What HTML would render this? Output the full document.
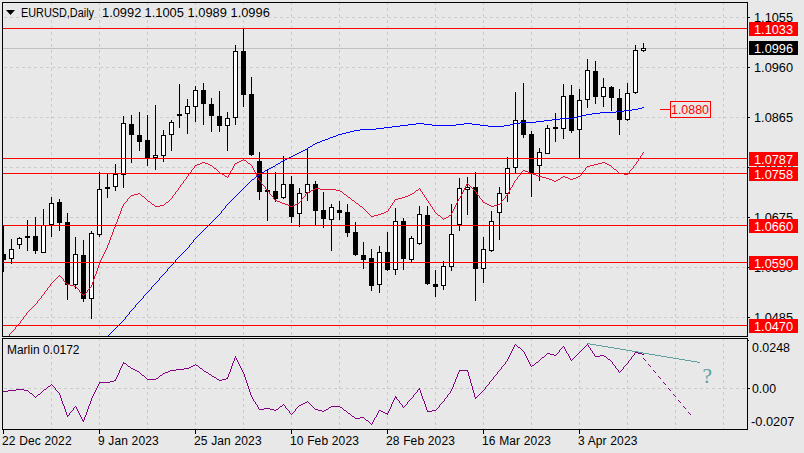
<!DOCTYPE html><html><head><meta charset="utf-8"><title>EURUSD,Daily</title><style>html,body{margin:0;padding:0;background:#e8e8e8;width:804px;height:453px;overflow:hidden}svg{display:block}text{font-family:"Liberation Sans", sans-serif;font-size:12px}</style></head><body>
<svg width="804" height="453" viewBox="0 0 804 453">
<rect x="0" y="0" width="804" height="453" fill="#e8e8e8"/>
<defs><clipPath id="cm"><rect x="3" y="3" width="744" height="333"/></clipPath><clipPath id="ci"><rect x="3" y="339" width="744" height="90"/></clipPath></defs>
<g shape-rendering="crispEdges" stroke="#cccccc" stroke-width="1" fill="none"><line x1="4" y1="17.5" x2="747" y2="17.5" stroke-dasharray="3 3"/><line x1="4" y1="67.5" x2="747" y2="67.5" stroke-dasharray="3 3"/><line x1="4" y1="117.5" x2="747" y2="117.5" stroke-dasharray="3 3"/><line x1="4" y1="167.5" x2="747" y2="167.5" stroke-dasharray="3 3"/><line x1="4" y1="217.5" x2="747" y2="217.5" stroke-dasharray="3 3"/><line x1="4" y1="267.5" x2="747" y2="267.5" stroke-dasharray="3 3"/><line x1="4" y1="317.5" x2="747" y2="317.5" stroke-dasharray="3 3"/><line x1="51.5" y1="2" x2="51.5" y2="336" stroke-dasharray="3 3"/><line x1="51.5" y1="338" x2="51.5" y2="429" stroke-dasharray="3 3"/><line x1="99.5" y1="2" x2="99.5" y2="336" stroke-dasharray="3 3"/><line x1="99.5" y1="338" x2="99.5" y2="429" stroke-dasharray="3 3"/><line x1="147.5" y1="2" x2="147.5" y2="336" stroke-dasharray="3 3"/><line x1="147.5" y1="338" x2="147.5" y2="429" stroke-dasharray="3 3"/><line x1="195.5" y1="2" x2="195.5" y2="336" stroke-dasharray="3 3"/><line x1="195.5" y1="338" x2="195.5" y2="429" stroke-dasharray="3 3"/><line x1="243.5" y1="2" x2="243.5" y2="336" stroke-dasharray="3 3"/><line x1="243.5" y1="338" x2="243.5" y2="429" stroke-dasharray="3 3"/><line x1="291.5" y1="2" x2="291.5" y2="336" stroke-dasharray="3 3"/><line x1="291.5" y1="338" x2="291.5" y2="429" stroke-dasharray="3 3"/><line x1="339.5" y1="2" x2="339.5" y2="336" stroke-dasharray="3 3"/><line x1="339.5" y1="338" x2="339.5" y2="429" stroke-dasharray="3 3"/><line x1="387.5" y1="2" x2="387.5" y2="336" stroke-dasharray="3 3"/><line x1="387.5" y1="338" x2="387.5" y2="429" stroke-dasharray="3 3"/><line x1="435.5" y1="2" x2="435.5" y2="336" stroke-dasharray="3 3"/><line x1="435.5" y1="338" x2="435.5" y2="429" stroke-dasharray="3 3"/><line x1="483.5" y1="2" x2="483.5" y2="336" stroke-dasharray="3 3"/><line x1="483.5" y1="338" x2="483.5" y2="429" stroke-dasharray="3 3"/><line x1="531.5" y1="2" x2="531.5" y2="336" stroke-dasharray="3 3"/><line x1="531.5" y1="338" x2="531.5" y2="429" stroke-dasharray="3 3"/><line x1="579.5" y1="2" x2="579.5" y2="336" stroke-dasharray="3 3"/><line x1="579.5" y1="338" x2="579.5" y2="429" stroke-dasharray="3 3"/><line x1="627.5" y1="2" x2="627.5" y2="336" stroke-dasharray="3 3"/><line x1="627.5" y1="338" x2="627.5" y2="429" stroke-dasharray="3 3"/><line x1="675.5" y1="2" x2="675.5" y2="336" stroke-dasharray="3 3"/><line x1="675.5" y1="338" x2="675.5" y2="429" stroke-dasharray="3 3"/><line x1="723.5" y1="2" x2="723.5" y2="336" stroke-dasharray="3 3"/><line x1="723.5" y1="338" x2="723.5" y2="429" stroke-dasharray="3 3"/><line x1="4" y1="388.5" x2="747" y2="388.5" stroke-dasharray="3 3"/></g>
<rect x="3" y="48" width="744" height="1" fill="#c0c0c0"/>
<g clip-path="url(#cm)" shape-rendering="crispEdges"><rect x="3" y="225" width="1" height="47" fill="#000"/><rect x="1" y="254" width="5" height="6" fill="#000"/><rect x="11" y="239" width="1" height="25" fill="#000"/><rect x="9" y="249" width="5" height="10" fill="#000"/><rect x="10" y="250" width="3" height="8" fill="#fff"/><rect x="19" y="237" width="1" height="12" fill="#000"/><rect x="17" y="238" width="5" height="7" fill="#000"/><rect x="18" y="239" width="3" height="5" fill="#fff"/><rect x="27" y="220" width="1" height="31" fill="#000"/><rect x="25" y="236" width="5" height="2" fill="#000"/><rect x="35" y="217" width="1" height="37" fill="#000"/><rect x="33" y="236" width="5" height="15" fill="#000"/><rect x="43" y="209" width="1" height="44" fill="#000"/><rect x="41" y="225" width="5" height="28" fill="#000"/><rect x="42" y="226" width="3" height="26" fill="#fff"/><rect x="51" y="197" width="1" height="40" fill="#000"/><rect x="49" y="203" width="5" height="22" fill="#000"/><rect x="50" y="204" width="3" height="20" fill="#fff"/><rect x="59" y="199" width="1" height="32" fill="#000"/><rect x="57" y="202" width="5" height="21" fill="#000"/><rect x="67" y="213" width="1" height="87" fill="#000"/><rect x="65" y="222" width="5" height="63" fill="#000"/><rect x="75" y="237" width="1" height="52" fill="#000"/><rect x="73" y="254" width="5" height="31" fill="#000"/><rect x="74" y="255" width="3" height="29" fill="#fff"/><rect x="83" y="240" width="1" height="62" fill="#000"/><rect x="81" y="255" width="5" height="44" fill="#000"/><rect x="91" y="231" width="1" height="88" fill="#000"/><rect x="89" y="233" width="5" height="66" fill="#000"/><rect x="90" y="234" width="3" height="64" fill="#fff"/><rect x="99" y="172" width="1" height="65" fill="#000"/><rect x="97" y="189" width="5" height="46" fill="#000"/><rect x="98" y="190" width="3" height="44" fill="#fff"/><rect x="107" y="174" width="1" height="24" fill="#000"/><rect x="105" y="187" width="5" height="2" fill="#000"/><rect x="115" y="164" width="1" height="27" fill="#000"/><rect x="113" y="174" width="5" height="13" fill="#000"/><rect x="114" y="175" width="3" height="11" fill="#fff"/><rect x="123" y="116" width="1" height="72" fill="#000"/><rect x="121" y="123" width="5" height="52" fill="#000"/><rect x="122" y="124" width="3" height="50" fill="#fff"/><rect x="131" y="115" width="1" height="48" fill="#000"/><rect x="129" y="124" width="5" height="11" fill="#000"/><rect x="139" y="112" width="1" height="39" fill="#000"/><rect x="137" y="135" width="5" height="7" fill="#000"/><rect x="147" y="115" width="1" height="51" fill="#000"/><rect x="145" y="140" width="5" height="18" fill="#000"/><rect x="155" y="105" width="1" height="65" fill="#000"/><rect x="153" y="155" width="5" height="3" fill="#000"/><rect x="154" y="156" width="3" height="1" fill="#fff"/><rect x="163" y="130" width="1" height="32" fill="#000"/><rect x="161" y="135" width="5" height="21" fill="#000"/><rect x="162" y="136" width="3" height="19" fill="#fff"/><rect x="171" y="120" width="1" height="31" fill="#000"/><rect x="169" y="122" width="5" height="13" fill="#000"/><rect x="170" y="123" width="3" height="11" fill="#fff"/><rect x="179" y="84" width="1" height="44" fill="#000"/><rect x="177" y="114" width="5" height="2" fill="#000"/><rect x="187" y="99" width="1" height="35" fill="#000"/><rect x="185" y="106" width="5" height="8" fill="#000"/><rect x="186" y="107" width="3" height="6" fill="#fff"/><rect x="195" y="86" width="1" height="36" fill="#000"/><rect x="193" y="90" width="5" height="17" fill="#000"/><rect x="194" y="91" width="3" height="15" fill="#fff"/><rect x="203" y="83" width="1" height="42" fill="#000"/><rect x="201" y="90" width="5" height="14" fill="#000"/><rect x="211" y="98" width="1" height="34" fill="#000"/><rect x="209" y="104" width="5" height="12" fill="#000"/><rect x="219" y="91" width="1" height="41" fill="#000"/><rect x="217" y="116" width="5" height="10" fill="#000"/><rect x="227" y="112" width="1" height="39" fill="#000"/><rect x="225" y="118" width="5" height="8" fill="#000"/><rect x="226" y="119" width="3" height="6" fill="#fff"/><rect x="235" y="45" width="1" height="80" fill="#000"/><rect x="233" y="51" width="5" height="67" fill="#000"/><rect x="234" y="52" width="3" height="65" fill="#fff"/><rect x="243" y="29" width="1" height="78" fill="#000"/><rect x="241" y="51" width="5" height="44" fill="#000"/><rect x="251" y="77" width="1" height="79" fill="#000"/><rect x="249" y="94" width="5" height="61" fill="#000"/><rect x="259" y="152" width="1" height="48" fill="#000"/><rect x="257" y="161" width="5" height="31" fill="#000"/><rect x="267" y="169" width="1" height="52" fill="#000"/><rect x="265" y="190" width="5" height="2" fill="#000"/><rect x="275" y="172" width="1" height="30" fill="#000"/><rect x="273" y="191" width="5" height="8" fill="#000"/><rect x="283" y="156" width="1" height="43" fill="#000"/><rect x="281" y="184" width="5" height="14" fill="#000"/><rect x="282" y="185" width="3" height="12" fill="#fff"/><rect x="291" y="176" width="1" height="47" fill="#000"/><rect x="289" y="184" width="5" height="33" fill="#000"/><rect x="299" y="188" width="1" height="39" fill="#000"/><rect x="297" y="193" width="5" height="21" fill="#000"/><rect x="298" y="194" width="3" height="19" fill="#fff"/><rect x="307" y="149" width="1" height="52" fill="#000"/><rect x="305" y="184" width="5" height="9" fill="#000"/><rect x="306" y="185" width="3" height="7" fill="#fff"/><rect x="315" y="181" width="1" height="44" fill="#000"/><rect x="313" y="184" width="5" height="27" fill="#000"/><rect x="323" y="192" width="1" height="36" fill="#000"/><rect x="321" y="210" width="5" height="9" fill="#000"/><rect x="331" y="204" width="1" height="47" fill="#000"/><rect x="329" y="207" width="5" height="13" fill="#000"/><rect x="330" y="208" width="3" height="11" fill="#fff"/><rect x="339" y="201" width="1" height="19" fill="#000"/><rect x="337" y="210" width="5" height="3" fill="#000"/><rect x="347" y="204" width="1" height="33" fill="#000"/><rect x="345" y="212" width="5" height="21" fill="#000"/><rect x="355" y="222" width="1" height="34" fill="#000"/><rect x="353" y="232" width="5" height="23" fill="#000"/><rect x="363" y="242" width="1" height="27" fill="#000"/><rect x="361" y="255" width="5" height="5" fill="#000"/><rect x="371" y="249" width="1" height="42" fill="#000"/><rect x="369" y="258" width="5" height="28" fill="#000"/><rect x="379" y="246" width="1" height="47" fill="#000"/><rect x="377" y="252" width="5" height="33" fill="#000"/><rect x="378" y="253" width="3" height="31" fill="#fff"/><rect x="387" y="232" width="1" height="39" fill="#000"/><rect x="385" y="252" width="5" height="18" fill="#000"/><rect x="395" y="208" width="1" height="67" fill="#000"/><rect x="393" y="221" width="5" height="49" fill="#000"/><rect x="394" y="222" width="3" height="47" fill="#fff"/><rect x="403" y="218" width="1" height="52" fill="#000"/><rect x="401" y="221" width="5" height="38" fill="#000"/><rect x="411" y="236" width="1" height="26" fill="#000"/><rect x="409" y="238" width="5" height="22" fill="#000"/><rect x="410" y="239" width="3" height="20" fill="#fff"/><rect x="419" y="206" width="1" height="39" fill="#000"/><rect x="417" y="214" width="5" height="30" fill="#000"/><rect x="418" y="215" width="3" height="28" fill="#fff"/><rect x="427" y="206" width="1" height="79" fill="#000"/><rect x="425" y="215" width="5" height="69" fill="#000"/><rect x="435" y="270" width="1" height="27" fill="#000"/><rect x="433" y="284" width="5" height="3" fill="#000"/><rect x="443" y="261" width="1" height="29" fill="#000"/><rect x="441" y="266" width="5" height="20" fill="#000"/><rect x="442" y="267" width="3" height="18" fill="#fff"/><rect x="451" y="204" width="1" height="67" fill="#000"/><rect x="449" y="234" width="5" height="33" fill="#000"/><rect x="450" y="235" width="3" height="31" fill="#fff"/><rect x="459" y="178" width="1" height="53" fill="#000"/><rect x="457" y="188" width="5" height="37" fill="#000"/><rect x="458" y="189" width="3" height="35" fill="#fff"/><rect x="467" y="177" width="1" height="38" fill="#000"/><rect x="465" y="187" width="5" height="3" fill="#000"/><rect x="466" y="188" width="3" height="1" fill="#fff"/><rect x="475" y="172" width="1" height="129" fill="#000"/><rect x="473" y="187" width="5" height="82" fill="#000"/><rect x="483" y="237" width="1" height="46" fill="#000"/><rect x="481" y="249" width="5" height="20" fill="#000"/><rect x="482" y="250" width="3" height="18" fill="#fff"/><rect x="491" y="211" width="1" height="41" fill="#000"/><rect x="489" y="221" width="5" height="30" fill="#000"/><rect x="490" y="222" width="3" height="28" fill="#fff"/><rect x="499" y="187" width="1" height="53" fill="#000"/><rect x="497" y="193" width="5" height="20" fill="#000"/><rect x="498" y="194" width="3" height="18" fill="#fff"/><rect x="507" y="157" width="1" height="45" fill="#000"/><rect x="505" y="168" width="5" height="26" fill="#000"/><rect x="506" y="169" width="3" height="24" fill="#fff"/><rect x="515" y="92" width="1" height="81" fill="#000"/><rect x="513" y="120" width="5" height="48" fill="#000"/><rect x="514" y="121" width="3" height="46" fill="#fff"/><rect x="523" y="83" width="1" height="55" fill="#000"/><rect x="521" y="120" width="5" height="15" fill="#000"/><rect x="531" y="131" width="1" height="66" fill="#000"/><rect x="529" y="134" width="5" height="39" fill="#000"/><rect x="539" y="148" width="1" height="33" fill="#000"/><rect x="537" y="152" width="5" height="14" fill="#000"/><rect x="538" y="153" width="3" height="12" fill="#fff"/><rect x="547" y="125" width="1" height="29" fill="#000"/><rect x="545" y="128" width="5" height="26" fill="#000"/><rect x="546" y="129" width="3" height="24" fill="#fff"/><rect x="555" y="113" width="1" height="29" fill="#000"/><rect x="553" y="127" width="5" height="2" fill="#000"/><rect x="563" y="84" width="1" height="55" fill="#000"/><rect x="561" y="96" width="5" height="33" fill="#000"/><rect x="562" y="97" width="3" height="31" fill="#fff"/><rect x="571" y="85" width="1" height="48" fill="#000"/><rect x="569" y="95" width="5" height="36" fill="#000"/><rect x="579" y="89" width="1" height="69" fill="#000"/><rect x="577" y="100" width="5" height="30" fill="#000"/><rect x="578" y="101" width="3" height="28" fill="#fff"/><rect x="587" y="59" width="1" height="49" fill="#000"/><rect x="585" y="70" width="5" height="30" fill="#000"/><rect x="586" y="71" width="3" height="28" fill="#fff"/><rect x="595" y="61" width="1" height="43" fill="#000"/><rect x="593" y="71" width="5" height="26" fill="#000"/><rect x="603" y="78" width="1" height="29" fill="#000"/><rect x="601" y="87" width="5" height="10" fill="#000"/><rect x="602" y="88" width="3" height="8" fill="#fff"/><rect x="611" y="86" width="1" height="25" fill="#000"/><rect x="609" y="87" width="5" height="11" fill="#000"/><rect x="619" y="89" width="1" height="46" fill="#000"/><rect x="617" y="98" width="5" height="22" fill="#000"/><rect x="627" y="83" width="1" height="38" fill="#000"/><rect x="625" y="93" width="5" height="27" fill="#000"/><rect x="626" y="94" width="3" height="25" fill="#fff"/><rect x="635" y="45" width="1" height="49" fill="#000"/><rect x="633" y="50" width="5" height="43" fill="#000"/><rect x="634" y="51" width="3" height="41" fill="#fff"/><rect x="643" y="43" width="1" height="9" fill="#000"/><rect x="641" y="48" width="5" height="3" fill="#000"/><rect x="642" y="49" width="3" height="1" fill="#fff"/></g>
<path fill="#dc143c" shape-rendering="crispEdges" d="M643 152h1v1h-1zM642 153h1v1h-1zM642 154h1v1h-1zM641 155h1v1h-1zM640 156h1v1h-1zM640 157h1v1h-1zM639 158h1v1h-1zM243 159h1v1h-1zM638 159h1v1h-1zM241 160h2v1h-2zM244 160h2v1h-2zM638 160h1v1h-1zM239 161h2v1h-2zM246 161h1v1h-1zM637 161h1v1h-1zM202 162h3v1h-3zM237 162h2v1h-2zM247 162h1v1h-1zM602 162h3v1h-3zM636 162h1v1h-1zM200 163h2v1h-2zM205 163h3v1h-3zM235 163h2v1h-2zM248 163h2v1h-2zM598 163h4v1h-4zM605 163h2v1h-2zM636 163h1v1h-1zM197 164h3v1h-3zM208 164h2v1h-2zM234 164h1v1h-1zM250 164h1v1h-1zM594 164h4v1h-4zM607 164h2v1h-2zM635 164h1v1h-1zM195 165h2v1h-2zM210 165h2v1h-2zM234 165h1v1h-1zM251 165h1v1h-1zM590 165h4v1h-4zM609 165h2v1h-2zM634 165h1v1h-1zM194 166h1v1h-1zM212 166h1v1h-1zM233 166h1v1h-1zM252 166h1v1h-1zM587 166h3v1h-3zM611 166h1v1h-1zM633 166h1v1h-1zM194 167h1v1h-1zM213 167h1v1h-1zM233 167h1v1h-1zM252 167h1v1h-1zM586 167h1v1h-1zM612 167h1v1h-1zM633 167h1v1h-1zM193 168h1v1h-1zM214 168h2v1h-2zM232 168h1v1h-1zM253 168h1v1h-1zM585 168h1v1h-1zM613 168h1v1h-1zM632 168h1v1h-1zM192 169h1v1h-1zM216 169h1v1h-1zM232 169h1v1h-1zM253 169h1v1h-1zM585 169h1v1h-1zM614 169h2v1h-2zM631 169h1v1h-1zM191 170h1v1h-1zM217 170h1v1h-1zM231 170h1v1h-1zM254 170h1v1h-1zM523 170h2v1h-2zM584 170h1v1h-1zM616 170h1v1h-1zM630 170h1v1h-1zM191 171h1v1h-1zM218 171h1v1h-1zM230 171h1v1h-1zM254 171h1v1h-1zM522 171h1v1h-1zM525 171h3v1h-3zM583 171h1v1h-1zM617 171h1v1h-1zM629 171h1v1h-1zM190 172h1v1h-1zM219 172h1v1h-1zM230 172h1v1h-1zM255 172h1v1h-1zM521 172h1v1h-1zM528 172h2v1h-2zM582 172h1v1h-1zM618 172h1v1h-1zM629 172h1v1h-1zM189 173h1v1h-1zM220 173h2v1h-2zM229 173h1v1h-1zM255 173h1v1h-1zM521 173h1v1h-1zM530 173h3v1h-3zM581 173h1v1h-1zM619 173h5v1h-5zM628 173h1v1h-1zM188 174h1v1h-1zM222 174h2v1h-2zM229 174h1v1h-1zM256 174h1v1h-1zM520 174h1v1h-1zM533 174h3v1h-3zM581 174h1v1h-1zM624 174h4v1h-4zM188 175h1v1h-1zM224 175h1v1h-1zM228 175h1v1h-1zM256 175h1v1h-1zM519 175h1v1h-1zM536 175h2v1h-2zM580 175h1v1h-1zM187 176h1v1h-1zM225 176h2v1h-2zM228 176h1v1h-1zM257 176h1v1h-1zM518 176h1v1h-1zM538 176h4v1h-4zM563 176h2v1h-2zM578 176h2v1h-2zM186 177h1v1h-1zM227 177h1v1h-1zM257 177h1v1h-1zM517 177h1v1h-1zM542 177h4v1h-4zM561 177h2v1h-2zM565 177h3v1h-3zM576 177h2v1h-2zM186 178h1v1h-1zM258 178h1v1h-1zM517 178h1v1h-1zM546 178h3v1h-3zM560 178h1v1h-1zM568 178h2v1h-2zM573 178h3v1h-3zM185 179h1v1h-1zM258 179h1v1h-1zM516 179h1v1h-1zM549 179h3v1h-3zM558 179h2v1h-2zM570 179h3v1h-3zM184 180h1v1h-1zM259 180h1v1h-1zM515 180h1v1h-1zM552 180h2v1h-2zM556 180h2v1h-2zM183 181h1v1h-1zM260 181h1v1h-1zM514 181h1v1h-1zM554 181h2v1h-2zM183 182h1v1h-1zM261 182h1v1h-1zM514 182h1v1h-1zM182 183h1v1h-1zM261 183h1v1h-1zM467 183h1v1h-1zM513 183h1v1h-1zM181 184h1v1h-1zM262 184h1v1h-1zM466 184h1v1h-1zM468 184h1v1h-1zM513 184h1v1h-1zM180 185h1v1h-1zM263 185h1v1h-1zM466 185h1v1h-1zM469 185h1v1h-1zM512 185h1v1h-1zM180 186h1v1h-1zM264 186h1v1h-1zM465 186h1v1h-1zM470 186h1v1h-1zM512 186h1v1h-1zM179 187h1v1h-1zM265 187h1v1h-1zM465 187h1v1h-1zM471 187h1v1h-1zM511 187h1v1h-1zM178 188h1v1h-1zM265 188h1v1h-1zM315 188h5v1h-5zM419 188h1v1h-1zM464 188h1v1h-1zM472 188h1v1h-1zM510 188h1v1h-1zM178 189h1v1h-1zM266 189h1v1h-1zM313 189h2v1h-2zM320 189h16v1h-16zM418 189h1v1h-1zM420 189h1v1h-1zM464 189h1v1h-1zM473 189h1v1h-1zM510 189h1v1h-1zM177 190h1v1h-1zM267 190h1v1h-1zM311 190h2v1h-2zM336 190h4v1h-4zM416 190h2v1h-2zM420 190h1v1h-1zM463 190h1v1h-1zM474 190h1v1h-1zM509 190h1v1h-1zM176 191h1v1h-1zM268 191h1v1h-1zM309 191h2v1h-2zM340 191h2v1h-2zM415 191h1v1h-1zM421 191h1v1h-1zM463 191h1v1h-1zM475 191h1v1h-1zM509 191h1v1h-1zM175 192h1v1h-1zM269 192h1v1h-1zM307 192h2v1h-2zM342 192h1v1h-1zM414 192h1v1h-1zM422 192h1v1h-1zM462 192h1v1h-1zM476 192h1v1h-1zM508 192h1v1h-1zM138 193h2v1h-2zM175 193h1v1h-1zM269 193h1v1h-1zM306 193h1v1h-1zM343 193h1v1h-1zM412 193h2v1h-2zM422 193h1v1h-1zM462 193h1v1h-1zM476 193h1v1h-1zM508 193h1v1h-1zM134 194h4v1h-4zM140 194h1v1h-1zM174 194h1v1h-1zM270 194h1v1h-1zM305 194h1v1h-1zM344 194h2v1h-2zM410 194h2v1h-2zM423 194h1v1h-1zM461 194h1v1h-1zM477 194h1v1h-1zM507 194h1v1h-1zM131 195h3v1h-3zM141 195h1v1h-1zM173 195h1v1h-1zM271 195h1v1h-1zM305 195h1v1h-1zM346 195h1v1h-1zM408 195h2v1h-2zM424 195h1v1h-1zM461 195h1v1h-1zM478 195h1v1h-1zM506 195h1v1h-1zM130 196h1v1h-1zM142 196h2v1h-2zM172 196h1v1h-1zM272 196h1v1h-1zM304 196h1v1h-1zM347 196h1v1h-1zM405 196h3v1h-3zM424 196h1v1h-1zM460 196h1v1h-1zM479 196h1v1h-1zM505 196h1v1h-1zM129 197h1v1h-1zM144 197h1v1h-1zM172 197h1v1h-1zM273 197h1v1h-1zM303 197h1v1h-1zM348 197h2v1h-2zM402 197h3v1h-3zM425 197h1v1h-1zM460 197h1v1h-1zM479 197h1v1h-1zM505 197h1v1h-1zM128 198h1v1h-1zM145 198h1v1h-1zM171 198h1v1h-1zM273 198h1v1h-1zM302 198h1v1h-1zM350 198h1v1h-1zM398 198h4v1h-4zM426 198h1v1h-1zM459 198h1v1h-1zM480 198h1v1h-1zM504 198h1v1h-1zM127 199h1v1h-1zM146 199h1v1h-1zM170 199h1v1h-1zM274 199h1v1h-1zM301 199h1v1h-1zM351 199h1v1h-1zM395 199h3v1h-3zM426 199h1v1h-1zM458 199h1v1h-1zM481 199h1v1h-1zM503 199h1v1h-1zM127 200h1v1h-1zM147 200h1v1h-1zM169 200h1v1h-1zM275 200h2v1h-2zM301 200h1v1h-1zM352 200h2v1h-2zM394 200h1v1h-1zM427 200h1v1h-1zM458 200h1v1h-1zM482 200h1v1h-1zM502 200h1v1h-1zM126 201h1v1h-1zM148 201h2v1h-2zM168 201h1v1h-1zM277 201h3v1h-3zM300 201h1v1h-1zM354 201h1v1h-1zM394 201h1v1h-1zM428 201h1v1h-1zM457 201h1v1h-1zM482 201h1v1h-1zM501 201h1v1h-1zM125 202h1v1h-1zM150 202h1v1h-1zM166 202h2v1h-2zM280 202h2v1h-2zM299 202h1v1h-1zM355 202h1v1h-1zM393 202h1v1h-1zM428 202h1v1h-1zM457 202h1v1h-1zM483 202h2v1h-2zM501 202h1v1h-1zM124 203h1v1h-1zM151 203h1v1h-1zM165 203h1v1h-1zM282 203h3v1h-3zM297 203h2v1h-2zM356 203h2v1h-2zM392 203h1v1h-1zM429 203h1v1h-1zM456 203h1v1h-1zM485 203h2v1h-2zM500 203h1v1h-1zM123 204h1v1h-1zM152 204h2v1h-2zM164 204h1v1h-1zM285 204h3v1h-3zM295 204h2v1h-2zM358 204h1v1h-1zM392 204h1v1h-1zM430 204h1v1h-1zM456 204h1v1h-1zM487 204h2v1h-2zM498 204h2v1h-2zM123 205h1v1h-1zM154 205h1v1h-1zM160 205h4v1h-4zM288 205h2v1h-2zM293 205h2v1h-2zM359 205h1v1h-1zM391 205h1v1h-1zM430 205h1v1h-1zM455 205h1v1h-1zM489 205h2v1h-2zM494 205h4v1h-4zM122 206h1v1h-1zM155 206h5v1h-5zM290 206h3v1h-3zM360 206h2v1h-2zM390 206h1v1h-1zM431 206h1v1h-1zM455 206h1v1h-1zM491 206h3v1h-3zM122 207h1v1h-1zM362 207h1v1h-1zM390 207h1v1h-1zM432 207h1v1h-1zM454 207h1v1h-1zM121 208h1v1h-1zM363 208h1v1h-1zM389 208h1v1h-1zM432 208h1v1h-1zM454 208h1v1h-1zM121 209h1v1h-1zM364 209h1v1h-1zM388 209h1v1h-1zM433 209h1v1h-1zM453 209h1v1h-1zM121 210h1v1h-1zM365 210h1v1h-1zM388 210h1v1h-1zM434 210h1v1h-1zM453 210h1v1h-1zM120 211h1v1h-1zM366 211h1v1h-1zM386 211h2v1h-2zM434 211h1v1h-1zM452 211h1v1h-1zM120 212h1v1h-1zM367 212h1v1h-1zM384 212h2v1h-2zM435 212h1v1h-1zM452 212h1v1h-1zM120 213h1v1h-1zM368 213h1v1h-1zM381 213h3v1h-3zM436 213h1v1h-1zM451 213h1v1h-1zM119 214h1v1h-1zM369 214h1v1h-1zM378 214h3v1h-3zM437 214h1v1h-1zM451 214h1v1h-1zM119 215h1v1h-1zM370 215h1v1h-1zM374 215h4v1h-4zM438 215h2v1h-2zM449 215h2v1h-2zM118 216h1v1h-1zM371 216h3v1h-3zM440 216h1v1h-1zM448 216h1v1h-1zM118 217h1v1h-1zM441 217h1v1h-1zM446 217h2v1h-2zM118 218h1v1h-1zM442 218h1v1h-1zM444 218h2v1h-2zM117 219h1v1h-1zM443 219h1v1h-1zM117 220h1v1h-1zM117 221h1v1h-1zM116 222h1v1h-1zM116 223h1v1h-1zM115 224h1v1h-1zM115 225h1v1h-1zM115 226h1v1h-1zM114 227h1v1h-1zM114 228h1v1h-1zM113 229h1v1h-1zM113 230h1v1h-1zM113 231h1v1h-1zM112 232h1v1h-1zM112 233h1v1h-1zM112 234h1v1h-1zM111 235h1v1h-1zM111 236h1v1h-1zM110 237h1v1h-1zM110 238h1v1h-1zM110 239h1v1h-1zM109 240h1v1h-1zM109 241h1v1h-1zM109 242h1v1h-1zM108 243h1v1h-1zM108 244h1v1h-1zM107 245h1v1h-1zM107 246h1v1h-1zM107 247h1v1h-1zM106 248h1v1h-1zM106 249h1v1h-1zM105 250h1v1h-1zM105 251h1v1h-1zM104 252h1v1h-1zM104 253h1v1h-1zM103 254h1v1h-1zM103 255h1v1h-1zM102 256h1v1h-1zM102 257h1v1h-1zM101 258h1v1h-1zM101 259h1v1h-1zM100 260h1v1h-1zM100 261h1v1h-1zM99 262h1v1h-1zM99 263h1v1h-1zM99 264h1v1h-1zM98 265h1v1h-1zM98 266h1v1h-1zM98 267h1v1h-1zM97 268h1v1h-1zM97 269h1v1h-1zM97 270h1v1h-1zM96 271h1v1h-1zM96 272h1v1h-1zM96 273h1v1h-1zM95 274h1v1h-1zM59 275h1v1h-1zM95 275h1v1h-1zM58 276h1v1h-1zM60 276h1v1h-1zM94 276h1v1h-1zM57 277h1v1h-1zM61 277h1v1h-1zM94 277h1v1h-1zM56 278h1v1h-1zM62 278h1v1h-1zM94 278h1v1h-1zM55 279h1v1h-1zM63 279h1v1h-1zM93 279h1v1h-1zM54 280h1v1h-1zM63 280h1v1h-1zM93 280h1v1h-1zM53 281h1v1h-1zM64 281h1v1h-1zM93 281h1v1h-1zM52 282h1v1h-1zM65 282h1v1h-1zM92 282h1v1h-1zM51 283h1v1h-1zM66 283h1v1h-1zM92 283h1v1h-1zM50 284h1v1h-1zM67 284h3v1h-3zM92 284h1v1h-1zM50 285h1v1h-1zM70 285h4v1h-4zM91 285h1v1h-1zM49 286h1v1h-1zM74 286h2v1h-2zM91 286h1v1h-1zM48 287h1v1h-1zM76 287h1v1h-1zM90 287h1v1h-1zM47 288h1v1h-1zM77 288h1v1h-1zM89 288h1v1h-1zM47 289h1v1h-1zM78 289h1v1h-1zM88 289h1v1h-1zM46 290h1v1h-1zM79 290h1v1h-1zM87 290h1v1h-1zM45 291h1v1h-1zM79 291h1v1h-1zM87 291h1v1h-1zM44 292h1v1h-1zM80 292h1v1h-1zM86 292h1v1h-1zM44 293h1v1h-1zM81 293h1v1h-1zM85 293h1v1h-1zM43 294h1v1h-1zM82 294h1v1h-1zM84 294h1v1h-1zM42 295h1v1h-1zM83 295h1v1h-1zM41 296h1v1h-1zM41 297h1v1h-1zM40 298h1v1h-1zM39 299h1v1h-1zM38 300h1v1h-1zM37 301h1v1h-1zM37 302h1v1h-1zM36 303h1v1h-1zM35 304h1v1h-1zM34 305h1v1h-1zM33 306h1v1h-1zM32 307h1v1h-1zM31 308h1v1h-1zM30 309h1v1h-1zM29 310h1v1h-1zM28 311h1v1h-1zM27 312h1v1h-1zM26 313h1v1h-1zM26 314h1v1h-1zM25 315h1v1h-1zM24 316h1v1h-1zM23 317h1v1h-1zM23 318h1v1h-1zM22 319h1v1h-1zM21 320h1v1h-1zM20 321h1v1h-1zM20 322h1v1h-1zM19 323h1v1h-1zM18 324h1v1h-1zM17 325h1v1h-1zM16 326h1v1h-1zM15 327h1v1h-1zM15 328h1v1h-1zM14 329h1v1h-1zM13 330h1v1h-1zM12 331h1v1h-1zM11 332h1v1h-1zM10 333h1v1h-1zM9 334h1v1h-1zM9 335h1v1h-1z"/>
<path fill="#0000ff" shape-rendering="crispEdges" d="M642 107h2v1h-2zM638 108h4v1h-4zM632 109h6v1h-6zM624 110h8v1h-8zM616 111h8v1h-8zM600 112h16v1h-16zM592 113h8v1h-8zM586 114h6v1h-6zM582 115h4v1h-4zM578 116h4v1h-4zM574 117h4v1h-4zM560 118h14v1h-14zM552 119h8v1h-8zM544 120h8v1h-8zM536 121h8v1h-8zM520 122h16v1h-16zM416 123h8v1h-8zM464 123h8v1h-8zM514 123h6v1h-6zM408 124h8v1h-8zM424 124h8v1h-8zM456 124h8v1h-8zM472 124h8v1h-8zM510 124h4v1h-4zM400 125h8v1h-8zM432 125h24v1h-24zM480 125h8v1h-8zM504 125h6v1h-6zM392 126h8v1h-8zM488 126h16v1h-16zM384 127h8v1h-8zM376 128h8v1h-8zM360 129h16v1h-16zM354 130h6v1h-6zM350 131h4v1h-4zM346 132h4v1h-4zM342 133h4v1h-4zM338 134h4v1h-4zM336 135h2v1h-2zM333 136h3v1h-3zM330 137h3v1h-3zM328 138h2v1h-2zM325 139h3v1h-3zM322 140h3v1h-3zM320 141h2v1h-2zM317 142h3v1h-3zM315 143h2v1h-2zM313 144h2v1h-2zM312 145h1v1h-1zM310 146h2v1h-2zM308 147h2v1h-2zM307 148h1v1h-1zM305 149h2v1h-2zM303 150h2v1h-2zM301 151h2v1h-2zM299 152h2v1h-2zM297 153h2v1h-2zM295 154h2v1h-2zM293 155h2v1h-2zM291 156h2v1h-2zM289 157h2v1h-2zM287 158h2v1h-2zM285 159h2v1h-2zM283 160h2v1h-2zM281 161h2v1h-2zM280 162h1v1h-1zM278 163h2v1h-2zM276 164h2v1h-2zM275 165h1v1h-1zM273 166h2v1h-2zM271 167h2v1h-2zM269 168h2v1h-2zM267 169h2v1h-2zM265 170h2v1h-2zM264 171h1v1h-1zM262 172h2v1h-2zM260 173h2v1h-2zM259 174h1v1h-1zM258 175h1v1h-1zM256 176h2v1h-2zM255 177h1v1h-1zM254 178h1v1h-1zM252 179h2v1h-2zM251 180h1v1h-1zM250 181h1v1h-1zM249 182h1v1h-1zM248 183h1v1h-1zM247 184h1v1h-1zM246 185h1v1h-1zM245 186h1v1h-1zM244 187h1v1h-1zM243 188h1v1h-1zM242 189h1v1h-1zM241 190h1v1h-1zM240 191h1v1h-1zM239 192h1v1h-1zM238 193h1v1h-1zM237 194h1v1h-1zM236 195h1v1h-1zM235 196h1v1h-1zM234 197h1v1h-1zM233 198h1v1h-1zM232 199h1v1h-1zM231 200h1v1h-1zM230 201h1v1h-1zM229 202h1v1h-1zM228 203h1v1h-1zM227 204h1v1h-1zM226 205h1v1h-1zM225 206h1v1h-1zM225 207h1v1h-1zM224 208h1v1h-1zM223 209h1v1h-1zM222 210h1v1h-1zM221 211h1v1h-1zM221 212h1v1h-1zM220 213h1v1h-1zM219 214h1v1h-1zM218 215h1v1h-1zM217 216h1v1h-1zM216 217h1v1h-1zM215 218h1v1h-1zM214 219h1v1h-1zM213 220h1v1h-1zM212 221h1v1h-1zM211 222h1v1h-1zM210 223h1v1h-1zM209 224h1v1h-1zM208 225h1v1h-1zM207 226h1v1h-1zM206 227h1v1h-1zM205 228h1v1h-1zM204 229h1v1h-1zM203 230h1v1h-1zM202 231h1v1h-1zM201 232h1v1h-1zM200 233h1v1h-1zM199 234h1v1h-1zM198 235h1v1h-1zM197 236h1v1h-1zM196 237h1v1h-1zM195 238h1v1h-1zM194 239h1v1h-1zM193 240h1v1h-1zM193 241h1v1h-1zM192 242h1v1h-1zM191 243h1v1h-1zM190 244h1v1h-1zM189 245h1v1h-1zM189 246h1v1h-1zM188 247h1v1h-1zM187 248h1v1h-1zM186 249h1v1h-1zM185 250h1v1h-1zM184 251h1v1h-1zM183 252h1v1h-1zM182 253h1v1h-1zM181 254h1v1h-1zM180 255h1v1h-1zM179 256h1v1h-1zM178 257h1v1h-1zM177 258h1v1h-1zM176 259h1v1h-1zM175 260h1v1h-1zM175 261h1v1h-1zM174 262h1v1h-1zM173 263h1v1h-1zM172 264h1v1h-1zM171 265h1v1h-1zM170 266h1v1h-1zM169 267h1v1h-1zM168 268h1v1h-1zM167 269h1v1h-1zM167 270h1v1h-1zM166 271h1v1h-1zM165 272h1v1h-1zM164 273h1v1h-1zM163 274h1v1h-1zM162 275h1v1h-1zM161 276h1v1h-1zM160 277h1v1h-1zM159 278h1v1h-1zM159 279h1v1h-1zM158 280h1v1h-1zM157 281h1v1h-1zM156 282h1v1h-1zM155 283h1v1h-1zM154 284h1v1h-1zM153 285h1v1h-1zM152 286h1v1h-1zM151 287h1v1h-1zM151 288h1v1h-1zM150 289h1v1h-1zM149 290h1v1h-1zM148 291h1v1h-1zM147 292h1v1h-1zM146 293h1v1h-1zM145 294h1v1h-1zM144 295h1v1h-1zM143 296h1v1h-1zM143 297h1v1h-1zM142 298h1v1h-1zM141 299h1v1h-1zM140 300h1v1h-1zM139 301h1v1h-1zM138 302h1v1h-1zM137 303h1v1h-1zM136 304h1v1h-1zM135 305h1v1h-1zM135 306h1v1h-1zM134 307h1v1h-1zM133 308h1v1h-1zM132 309h1v1h-1zM131 310h1v1h-1zM130 311h1v1h-1zM129 312h1v1h-1zM129 313h1v1h-1zM128 314h1v1h-1zM127 315h1v1h-1zM126 316h1v1h-1zM125 317h1v1h-1zM125 318h1v1h-1zM124 319h1v1h-1zM123 320h1v1h-1zM122 321h1v1h-1zM121 322h1v1h-1zM120 323h1v1h-1zM119 324h1v1h-1zM118 325h1v1h-1zM117 326h1v1h-1zM116 327h1v1h-1zM115 328h1v1h-1zM114 329h1v1h-1zM113 330h1v1h-1zM112 331h1v1h-1zM111 332h1v1h-1zM110 333h1v1h-1zM109 334h1v1h-1zM108 335h1v1h-1z"/>
<rect x="3" y="28" width="744" height="1" fill="#ff0000"/>
<rect x="3" y="158" width="744" height="1" fill="#ff0000"/>
<rect x="3" y="173" width="744" height="1" fill="#ff0000"/>
<rect x="3" y="225" width="744" height="1" fill="#ff0000"/>
<rect x="3" y="262" width="744" height="1" fill="#ff0000"/>
<rect x="3" y="325" width="744" height="1" fill="#ff0000"/>
<rect x="660" y="109" width="10" height="1" fill="#ff0000"/>
<rect x="670.5" y="101.5" width="40" height="16" fill="none" stroke="#ff0000" stroke-width="1" shape-rendering="crispEdges"/>
<text x="671" y="114" fill="#ff0000" textLength="38" lengthAdjust="spacingAndGlyphs">1.0880</text>
<path fill="#800080" shape-rendering="crispEdges" d="M515 344h1v1h-1zM587 344h1v1h-1zM514 345h1v1h-1zM516 345h1v1h-1zM586 345h1v1h-1zM588 345h1v1h-1zM514 346h1v1h-1zM517 346h1v1h-1zM563 346h1v1h-1zM585 346h1v1h-1zM588 346h1v1h-1zM513 347h1v1h-1zM518 347h2v1h-2zM562 347h1v1h-1zM564 347h1v1h-1zM584 347h1v1h-1zM589 347h1v1h-1zM513 348h1v1h-1zM520 348h1v1h-1zM561 348h1v1h-1zM564 348h1v1h-1zM583 348h1v1h-1zM590 348h1v1h-1zM512 349h1v1h-1zM521 349h1v1h-1zM560 349h1v1h-1zM565 349h1v1h-1zM582 349h1v1h-1zM590 349h1v1h-1zM512 350h1v1h-1zM522 350h1v1h-1zM559 350h1v1h-1zM565 350h1v1h-1zM581 350h1v1h-1zM591 350h1v1h-1zM511 351h1v1h-1zM523 351h1v1h-1zM559 351h1v1h-1zM566 351h1v1h-1zM580 351h1v1h-1zM592 351h1v1h-1zM511 352h1v1h-1zM524 352h1v1h-1zM558 352h1v1h-1zM566 352h1v1h-1zM579 352h1v1h-1zM592 352h1v1h-1zM635 352h3v1h-3zM510 353h1v1h-1zM524 353h1v1h-1zM547 353h3v1h-3zM557 353h1v1h-1zM567 353h1v1h-1zM578 353h1v1h-1zM593 353h1v1h-1zM634 353h1v1h-1zM638 353h4v1h-4zM510 354h1v1h-1zM525 354h1v1h-1zM546 354h1v1h-1zM550 354h4v1h-4zM556 354h1v1h-1zM568 354h1v1h-1zM577 354h1v1h-1zM594 354h1v1h-1zM634 354h1v1h-1zM642 354h2v1h-2zM509 355h1v1h-1zM525 355h1v1h-1zM545 355h1v1h-1zM554 355h2v1h-2zM568 355h1v1h-1zM576 355h1v1h-1zM594 355h1v1h-1zM600 355h4v1h-4zM633 355h1v1h-1zM235 356h1v1h-1zM509 356h1v1h-1zM526 356h1v1h-1zM544 356h1v1h-1zM569 356h1v1h-1zM575 356h1v1h-1zM595 356h5v1h-5zM604 356h2v1h-2zM632 356h1v1h-1zM235 357h1v1h-1zM508 357h1v1h-1zM526 357h1v1h-1zM542 357h2v1h-2zM569 357h1v1h-1zM574 357h1v1h-1zM606 357h1v1h-1zM631 357h1v1h-1zM234 358h1v1h-1zM236 358h1v1h-1zM508 358h1v1h-1zM527 358h1v1h-1zM541 358h1v1h-1zM570 358h1v1h-1zM573 358h1v1h-1zM607 358h1v1h-1zM631 358h1v1h-1zM234 359h1v1h-1zM236 359h1v1h-1zM507 359h1v1h-1zM527 359h1v1h-1zM540 359h1v1h-1zM570 359h1v1h-1zM572 359h1v1h-1zM608 359h2v1h-2zM630 359h1v1h-1zM234 360h1v1h-1zM237 360h1v1h-1zM507 360h1v1h-1zM528 360h1v1h-1zM539 360h1v1h-1zM571 360h1v1h-1zM610 360h1v1h-1zM629 360h1v1h-1zM233 361h1v1h-1zM237 361h1v1h-1zM506 361h1v1h-1zM528 361h1v1h-1zM538 361h1v1h-1zM611 361h1v1h-1zM628 361h1v1h-1zM123 362h1v1h-1zM233 362h1v1h-1zM238 362h1v1h-1zM505 362h1v1h-1zM529 362h1v1h-1zM536 362h2v1h-2zM612 362h1v1h-1zM628 362h1v1h-1zM123 363h3v1h-3zM232 363h1v1h-1zM238 363h1v1h-1zM505 363h1v1h-1zM529 363h1v1h-1zM535 363h1v1h-1zM612 363h1v1h-1zM627 363h1v1h-1zM122 364h1v1h-1zM126 364h1v1h-1zM195 364h1v1h-1zM232 364h1v1h-1zM239 364h1v1h-1zM504 364h1v1h-1zM530 364h1v1h-1zM534 364h1v1h-1zM613 364h1v1h-1zM626 364h1v1h-1zM122 365h1v1h-1zM127 365h1v1h-1zM193 365h2v1h-2zM196 365h2v1h-2zM232 365h1v1h-1zM239 365h1v1h-1zM503 365h1v1h-1zM530 365h1v1h-1zM532 365h2v1h-2zM614 365h1v1h-1zM625 365h1v1h-1zM121 366h1v1h-1zM128 366h2v1h-2zM191 366h2v1h-2zM198 366h1v1h-1zM231 366h1v1h-1zM240 366h1v1h-1zM502 366h1v1h-1zM531 366h1v1h-1zM615 366h1v1h-1zM624 366h1v1h-1zM121 367h1v1h-1zM130 367h1v1h-1zM189 367h2v1h-2zM199 367h1v1h-1zM231 367h1v1h-1zM240 367h1v1h-1zM501 367h1v1h-1zM615 367h1v1h-1zM623 367h1v1h-1zM120 368h1v1h-1zM131 368h2v1h-2zM184 368h5v1h-5zM200 368h2v1h-2zM231 368h1v1h-1zM241 368h1v1h-1zM501 368h1v1h-1zM616 368h1v1h-1zM623 368h1v1h-1zM120 369h1v1h-1zM133 369h2v1h-2zM176 369h8v1h-8zM202 369h1v1h-1zM230 369h1v1h-1zM241 369h1v1h-1zM500 369h1v1h-1zM617 369h1v1h-1zM622 369h1v1h-1zM119 370h1v1h-1zM135 370h2v1h-2zM170 370h6v1h-6zM203 370h1v1h-1zM230 370h1v1h-1zM242 370h1v1h-1zM459 370h9v1h-9zM499 370h1v1h-1zM618 370h1v1h-1zM621 370h1v1h-1zM119 371h1v1h-1zM137 371h2v1h-2zM168 371h2v1h-2zM204 371h2v1h-2zM230 371h1v1h-1zM242 371h1v1h-1zM459 371h1v1h-1zM467 371h1v1h-1zM498 371h1v1h-1zM618 371h1v1h-1zM620 371h1v1h-1zM119 372h1v1h-1zM139 372h1v1h-1zM165 372h3v1h-3zM206 372h2v1h-2zM229 372h1v1h-1zM243 372h1v1h-1zM458 372h1v1h-1zM468 372h1v1h-1zM497 372h1v1h-1zM619 372h1v1h-1zM118 373h1v1h-1zM140 373h1v1h-1zM163 373h2v1h-2zM208 373h1v1h-1zM229 373h1v1h-1zM243 373h1v1h-1zM458 373h1v1h-1zM468 373h1v1h-1zM497 373h1v1h-1zM118 374h1v1h-1zM141 374h1v1h-1zM162 374h1v1h-1zM209 374h2v1h-2zM228 374h1v1h-1zM244 374h1v1h-1zM457 374h1v1h-1zM468 374h1v1h-1zM496 374h1v1h-1zM117 375h1v1h-1zM142 375h2v1h-2zM160 375h2v1h-2zM211 375h1v1h-1zM228 375h1v1h-1zM244 375h1v1h-1zM457 375h1v1h-1zM468 375h1v1h-1zM495 375h1v1h-1zM117 376h1v1h-1zM144 376h1v1h-1zM159 376h1v1h-1zM212 376h2v1h-2zM228 376h1v1h-1zM244 376h1v1h-1zM457 376h1v1h-1zM469 376h1v1h-1zM494 376h1v1h-1zM116 377h1v1h-1zM145 377h1v1h-1zM158 377h1v1h-1zM214 377h2v1h-2zM227 377h1v1h-1zM245 377h1v1h-1zM456 377h1v1h-1zM469 377h1v1h-1zM493 377h1v1h-1zM116 378h1v1h-1zM146 378h1v1h-1zM156 378h2v1h-2zM216 378h1v1h-1zM226 378h2v1h-2zM245 378h1v1h-1zM456 378h1v1h-1zM469 378h1v1h-1zM493 378h1v1h-1zM115 379h1v1h-1zM147 379h9v1h-9zM217 379h2v1h-2zM222 379h4v1h-4zM245 379h1v1h-1zM455 379h1v1h-1zM470 379h1v1h-1zM492 379h1v1h-1zM114 380h2v1h-2zM219 380h3v1h-3zM246 380h1v1h-1zM455 380h1v1h-1zM470 380h1v1h-1zM491 380h1v1h-1zM110 381h4v1h-4zM246 381h1v1h-1zM455 381h1v1h-1zM470 381h1v1h-1zM490 381h1v1h-1zM99 382h11v1h-11zM246 382h1v1h-1zM454 382h1v1h-1zM470 382h1v1h-1zM489 382h1v1h-1zM99 383h1v1h-1zM247 383h1v1h-1zM454 383h1v1h-1zM471 383h1v1h-1zM489 383h1v1h-1zM51 384h1v1h-1zM98 384h1v1h-1zM247 384h1v1h-1zM453 384h1v1h-1zM471 384h1v1h-1zM488 384h1v1h-1zM50 385h1v1h-1zM52 385h1v1h-1zM98 385h1v1h-1zM247 385h1v1h-1zM453 385h1v1h-1zM471 385h1v1h-1zM487 385h1v1h-1zM48 386h2v1h-2zM53 386h1v1h-1zM97 386h1v1h-1zM248 386h1v1h-1zM453 386h1v1h-1zM472 386h1v1h-1zM486 386h1v1h-1zM47 387h1v1h-1zM54 387h1v1h-1zM97 387h1v1h-1zM248 387h1v1h-1zM452 387h1v1h-1zM472 387h1v1h-1zM485 387h1v1h-1zM46 388h1v1h-1zM55 388h1v1h-1zM96 388h1v1h-1zM248 388h1v1h-1zM419 388h1v1h-1zM452 388h1v1h-1zM472 388h1v1h-1zM485 388h1v1h-1zM16 389h8v1h-8zM44 389h2v1h-2zM55 389h1v1h-1zM96 389h1v1h-1zM249 389h1v1h-1zM418 389h2v1h-2zM451 389h1v1h-1zM472 389h1v1h-1zM484 389h1v1h-1zM8 390h8v1h-8zM24 390h4v1h-4zM43 390h1v1h-1zM56 390h1v1h-1zM95 390h1v1h-1zM249 390h1v1h-1zM417 390h1v1h-1zM420 390h1v1h-1zM451 390h1v1h-1zM473 390h1v1h-1zM483 390h1v1h-1zM3 391h5v1h-5zM28 391h1v1h-1zM42 391h1v1h-1zM57 391h1v1h-1zM95 391h1v1h-1zM249 391h1v1h-1zM417 391h1v1h-1zM420 391h1v1h-1zM450 391h1v1h-1zM473 391h1v1h-1zM482 391h1v1h-1zM29 392h1v1h-1zM41 392h1v1h-1zM58 392h1v1h-1zM94 392h1v1h-1zM250 392h1v1h-1zM416 392h1v1h-1zM420 392h1v1h-1zM450 392h1v1h-1zM473 392h1v1h-1zM481 392h1v1h-1zM30 393h2v1h-2zM40 393h1v1h-1zM59 393h1v1h-1zM94 393h1v1h-1zM250 393h1v1h-1zM415 393h1v1h-1zM421 393h1v1h-1zM449 393h1v1h-1zM474 393h1v1h-1zM480 393h1v1h-1zM32 394h1v1h-1zM38 394h2v1h-2zM59 394h1v1h-1zM93 394h1v1h-1zM250 394h1v1h-1zM414 394h1v1h-1zM421 394h1v1h-1zM448 394h1v1h-1zM474 394h1v1h-1zM479 394h1v1h-1zM33 395h1v1h-1zM37 395h1v1h-1zM60 395h1v1h-1zM93 395h1v1h-1zM251 395h1v1h-1zM413 395h1v1h-1zM421 395h1v1h-1zM447 395h1v1h-1zM474 395h1v1h-1zM478 395h1v1h-1zM34 396h1v1h-1zM36 396h1v1h-1zM60 396h1v1h-1zM92 396h1v1h-1zM251 396h1v1h-1zM395 396h1v1h-1zM413 396h1v1h-1zM422 396h1v1h-1zM447 396h1v1h-1zM474 396h1v1h-1zM477 396h1v1h-1zM35 397h1v1h-1zM60 397h1v1h-1zM92 397h1v1h-1zM252 397h1v1h-1zM395 397h2v1h-2zM412 397h1v1h-1zM422 397h1v1h-1zM446 397h1v1h-1zM475 397h2v1h-2zM61 398h1v1h-1zM91 398h1v1h-1zM252 398h1v1h-1zM394 398h1v1h-1zM396 398h1v1h-1zM411 398h1v1h-1zM422 398h1v1h-1zM445 398h1v1h-1zM475 398h1v1h-1zM61 399h1v1h-1zM91 399h1v1h-1zM253 399h1v1h-1zM394 399h1v1h-1zM397 399h1v1h-1zM410 399h1v1h-1zM423 399h1v1h-1zM444 399h1v1h-1zM61 400h1v1h-1zM91 400h1v1h-1zM253 400h1v1h-1zM393 400h1v1h-1zM398 400h1v1h-1zM409 400h1v1h-1zM423 400h1v1h-1zM444 400h1v1h-1zM62 401h1v1h-1zM90 401h1v1h-1zM254 401h1v1h-1zM307 401h1v1h-1zM393 401h1v1h-1zM399 401h1v1h-1zM408 401h1v1h-1zM424 401h1v1h-1zM443 401h1v1h-1zM62 402h1v1h-1zM90 402h1v1h-1zM255 402h1v1h-1zM305 402h2v1h-2zM308 402h1v1h-1zM392 402h1v1h-1zM399 402h1v1h-1zM407 402h1v1h-1zM424 402h1v1h-1zM442 402h1v1h-1zM62 403h1v1h-1zM90 403h1v1h-1zM255 403h1v1h-1zM303 403h2v1h-2zM309 403h1v1h-1zM392 403h1v1h-1zM400 403h1v1h-1zM407 403h1v1h-1zM424 403h1v1h-1zM441 403h1v1h-1zM63 404h1v1h-1zM89 404h1v1h-1zM256 404h1v1h-1zM283 404h1v1h-1zM301 404h2v1h-2zM310 404h1v1h-1zM391 404h1v1h-1zM401 404h1v1h-1zM406 404h1v1h-1zM425 404h1v1h-1zM440 404h1v1h-1zM63 405h1v1h-1zM89 405h1v1h-1zM257 405h1v1h-1zM282 405h1v1h-1zM284 405h1v1h-1zM299 405h2v1h-2zM311 405h1v1h-1zM391 405h1v1h-1zM402 405h1v1h-1zM405 405h1v1h-1zM425 405h1v1h-1zM439 405h1v1h-1zM64 406h1v1h-1zM75 406h1v1h-1zM88 406h1v1h-1zM257 406h1v1h-1zM280 406h2v1h-2zM285 406h1v1h-1zM298 406h1v1h-1zM312 406h1v1h-1zM331 406h9v1h-9zM391 406h1v1h-1zM402 406h1v1h-1zM404 406h1v1h-1zM425 406h1v1h-1zM439 406h1v1h-1zM64 407h1v1h-1zM74 407h1v1h-1zM76 407h1v1h-1zM88 407h1v1h-1zM258 407h1v1h-1zM279 407h1v1h-1zM285 407h1v1h-1zM297 407h1v1h-1zM313 407h1v1h-1zM329 407h2v1h-2zM340 407h2v1h-2zM390 407h1v1h-1zM403 407h1v1h-1zM426 407h1v1h-1zM438 407h1v1h-1zM64 408h1v1h-1zM73 408h1v1h-1zM76 408h1v1h-1zM88 408h1v1h-1zM258 408h1v1h-1zM264 408h6v1h-6zM278 408h1v1h-1zM286 408h1v1h-1zM296 408h1v1h-1zM314 408h1v1h-1zM328 408h1v1h-1zM342 408h1v1h-1zM390 408h1v1h-1zM426 408h1v1h-1zM437 408h1v1h-1zM65 409h1v1h-1zM73 409h1v1h-1zM77 409h1v1h-1zM87 409h1v1h-1zM259 409h5v1h-5zM270 409h4v1h-4zM276 409h2v1h-2zM287 409h1v1h-1zM295 409h1v1h-1zM315 409h3v1h-3zM326 409h2v1h-2zM343 409h1v1h-1zM389 409h1v1h-1zM426 409h1v1h-1zM436 409h1v1h-1zM65 410h1v1h-1zM72 410h1v1h-1zM77 410h1v1h-1zM87 410h1v1h-1zM274 410h2v1h-2zM288 410h1v1h-1zM295 410h1v1h-1zM318 410h4v1h-4zM324 410h2v1h-2zM344 410h2v1h-2zM379 410h2v1h-2zM389 410h1v1h-1zM427 410h1v1h-1zM432 410h4v1h-4zM65 411h1v1h-1zM71 411h1v1h-1zM78 411h1v1h-1zM87 411h1v1h-1zM289 411h1v1h-1zM294 411h1v1h-1zM322 411h2v1h-2zM346 411h1v1h-1zM378 411h1v1h-1zM381 411h2v1h-2zM388 411h1v1h-1zM427 411h5v1h-5zM66 412h1v1h-1zM70 412h1v1h-1zM78 412h1v1h-1zM86 412h1v1h-1zM289 412h1v1h-1zM293 412h1v1h-1zM347 412h1v1h-1zM378 412h1v1h-1zM383 412h2v1h-2zM388 412h1v1h-1zM66 413h1v1h-1zM69 413h1v1h-1zM79 413h1v1h-1zM86 413h1v1h-1zM290 413h1v1h-1zM292 413h1v1h-1zM348 413h2v1h-2zM377 413h1v1h-1zM385 413h3v1h-3zM66 414h1v1h-1zM69 414h1v1h-1zM79 414h1v1h-1zM86 414h1v1h-1zM291 414h1v1h-1zM350 414h1v1h-1zM377 414h1v1h-1zM387 414h1v1h-1zM67 415h2v1h-2zM80 415h1v1h-1zM85 415h1v1h-1zM351 415h1v1h-1zM376 415h1v1h-1zM67 416h1v1h-1zM80 416h1v1h-1zM85 416h1v1h-1zM352 416h2v1h-2zM376 416h1v1h-1zM81 417h1v1h-1zM84 417h1v1h-1zM354 417h1v1h-1zM360 417h4v1h-4zM375 417h1v1h-1zM81 418h1v1h-1zM84 418h1v1h-1zM355 418h5v1h-5zM364 418h1v1h-1zM374 418h1v1h-1zM82 419h1v1h-1zM84 419h1v1h-1zM365 419h1v1h-1zM374 419h1v1h-1zM82 420h2v1h-2zM366 420h2v1h-2zM373 420h1v1h-1zM83 421h1v1h-1zM368 421h1v1h-1zM373 421h1v1h-1zM369 422h1v1h-1zM372 422h1v1h-1zM370 423h1v1h-1zM372 423h1v1h-1zM371 424h1v1h-1z"/>
<path fill="#800080" shape-rendering="crispEdges" d="M643 358h1v1h-1zM644 359h1v1h-1zM645 360h1v1h-1zM648 364h1v1h-1zM649 365h1v1h-1zM650 366h1v1h-1zM653 370h1v1h-1zM654 371h1v1h-1zM655 372h1v1h-1zM658 376h1v1h-1zM659 377h1v1h-1zM660 378h1v1h-1zM663 382h1v1h-1zM664 383h1v1h-1zM665 384h1v1h-1zM668 388h1v1h-1zM669 389h1v1h-1zM670 390h1v1h-1zM673 394h1v1h-1zM674 395h1v1h-1zM675 396h1v1h-1zM678 400h1v1h-1zM679 401h1v1h-1zM680 402h1v1h-1zM683 406h1v1h-1zM684 407h1v1h-1zM685 408h1v1h-1zM688 412h1v1h-1zM689 413h1v1h-1zM690 414h1v1h-1z"/>
<path fill="#5f9ea0" shape-rendering="crispEdges" d="M587 343h3v1h-3zM590 344h6v1h-6zM596 345h6v1h-6zM602 346h6v1h-6zM608 347h6v1h-6zM614 348h6v1h-6zM620 349h6v1h-6zM626 350h6v1h-6zM632 351h6v1h-6zM638 352h5v1h-5zM643 353h6v1h-6zM649 354h6v1h-6zM655 355h6v1h-6zM661 356h6v1h-6zM667 357h6v1h-6zM673 358h6v1h-6zM679 359h6v1h-6zM685 360h6v1h-6zM691 361h6v1h-6zM697 362h3v1h-3z"/>
<text x="702.5" y="383.3" fill="#5f9ea0" style="font-family:'Liberation Serif',serif;font-size:21.5px">?</text>
<g shape-rendering="crispEdges" fill="#000"><rect x="2" y="2" width="746" height="1"/><rect x="2" y="336" width="746" height="1"/><rect x="2" y="2" width="1" height="335"/><rect x="747" y="2" width="1" height="335"/><rect x="2" y="338" width="746" height="1"/><rect x="2" y="429" width="746" height="1"/><rect x="2" y="338" width="1" height="92"/><rect x="747" y="338" width="1" height="92"/><rect x="748" y="17" width="2" height="1"/><rect x="748" y="67" width="2" height="1"/><rect x="748" y="117" width="2" height="1"/><rect x="748" y="167" width="2" height="1"/><rect x="748" y="217" width="2" height="1"/><rect x="748" y="267" width="2" height="1"/><rect x="748" y="317" width="2" height="1"/><rect x="748" y="388" width="2" height="1"/><rect x="748" y="340" width="1" height="1"/><rect x="3" y="430" width="1" height="4"/><rect x="99" y="430" width="1" height="4"/><rect x="195" y="430" width="1" height="4"/><rect x="291" y="430" width="1" height="4"/><rect x="387" y="430" width="1" height="4"/><rect x="483" y="430" width="1" height="4"/><rect x="579" y="430" width="1" height="4"/></g>
<path d="M6,10 L15,10 L10.5,15 Z" fill="#000"/><text x="21" y="17" fill="#000" textLength="73" lengthAdjust="spacingAndGlyphs">EURUSD,Daily</text><text x="102.0" y="17" fill="#000" textLength="39.3" lengthAdjust="spacingAndGlyphs">1.0992</text><text x="144.6" y="17" fill="#000" textLength="39.3" lengthAdjust="spacingAndGlyphs">1.1005</text><text x="187.6" y="17" fill="#000" textLength="39.3" lengthAdjust="spacingAndGlyphs">1.0989</text><text x="230.5" y="17" fill="#000" textLength="39.3" lengthAdjust="spacingAndGlyphs">1.0996</text><text x="754" y="22" fill="#000" textLength="39" lengthAdjust="spacingAndGlyphs">1.1055</text><text x="754" y="72" fill="#000" textLength="39" lengthAdjust="spacingAndGlyphs">1.0960</text><text x="754" y="122" fill="#000" textLength="39" lengthAdjust="spacingAndGlyphs">1.0865</text><text x="754" y="172" fill="#000" textLength="39" lengthAdjust="spacingAndGlyphs">1.0770</text><text x="754" y="222" fill="#000" textLength="39" lengthAdjust="spacingAndGlyphs">1.0675</text><text x="754" y="272" fill="#000" textLength="39" lengthAdjust="spacingAndGlyphs">1.0580</text><text x="754" y="322" fill="#000" textLength="39" lengthAdjust="spacingAndGlyphs">1.0485</text><rect x="749" y="22" width="49" height="14" fill="#ff0000"/><text x="754" y="34" fill="#fff" textLength="39" lengthAdjust="spacingAndGlyphs">1.1033</text><rect x="749" y="152" width="49" height="14" fill="#ff0000"/><text x="754" y="164" fill="#fff" textLength="39" lengthAdjust="spacingAndGlyphs">1.0787</text><rect x="749" y="167" width="49" height="14" fill="#ff0000"/><text x="754" y="179" fill="#fff" textLength="39" lengthAdjust="spacingAndGlyphs">1.0758</text><rect x="749" y="219" width="49" height="14" fill="#ff0000"/><text x="754" y="231" fill="#fff" textLength="39" lengthAdjust="spacingAndGlyphs">1.0660</text><rect x="749" y="256" width="49" height="14" fill="#ff0000"/><text x="754" y="268" fill="#fff" textLength="39" lengthAdjust="spacingAndGlyphs">1.0590</text><rect x="749" y="319" width="49" height="14" fill="#ff0000"/><text x="754" y="331" fill="#fff" textLength="39" lengthAdjust="spacingAndGlyphs">1.0470</text><rect x="749" y="41" width="49" height="14" fill="#000"/><text x="754" y="53" fill="#fff" textLength="39" lengthAdjust="spacingAndGlyphs">1.0996</text><text x="7" y="354" fill="#000" textLength="72.5" lengthAdjust="spacingAndGlyphs">Marlin 0.0172</text><text x="752" y="352" fill="#000" textLength="38" lengthAdjust="spacingAndGlyphs">0.0248</text><text x="752" y="393" fill="#000" textLength="24" lengthAdjust="spacingAndGlyphs">0.00</text><text x="751" y="426" fill="#000" textLength="43.5" lengthAdjust="spacingAndGlyphs">-0.0207</text><text x="2" y="445" fill="#000" style="letter-spacing:0.15px">22 Dec 2022</text><text x="98" y="445" fill="#000" style="letter-spacing:0.15px">9 Jan 2023</text><text x="194" y="445" fill="#000" style="letter-spacing:0.15px">25 Jan 2023</text><text x="290" y="445" fill="#000" style="letter-spacing:0.15px">10 Feb 2023</text><text x="386" y="445" fill="#000" style="letter-spacing:0.15px">28 Feb 2023</text><text x="482" y="445" fill="#000" style="letter-spacing:0.15px">16 Mar 2023</text><text x="578" y="445" fill="#000" style="letter-spacing:0.15px">3 Apr 2023</text>
</svg></body></html>
